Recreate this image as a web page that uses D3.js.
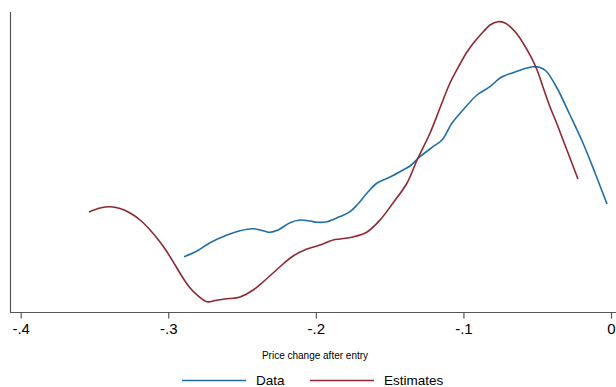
<!DOCTYPE html>
<html>
<head>
<meta charset="utf-8">
<script src="https://cdn.jsdelivr.net/npm/d3@7"></script>
<style>
  body { margin: 0; background: #fff; }
  svg { display: block; font-family: "Liberation Sans", Arial, sans-serif; }
</style>
</head>
<body>
<svg width="616" height="387"></svg>
<script>
// x ticks
var tickValues = [-0.4, -0.3, -0.2, -0.1, 0];
var tickLabels = ["-.4", "-.3", "-.2", "-.1", "0"];

// Data (kernel density of observed price change)
var dataX = [-0.2893, -0.2805, -0.2717, -0.2602, -0.2514, -0.2425, -0.2358, -0.2310, -0.2256, -0.2175,
             -0.2107, -0.2039, -0.1992, -0.1924, -0.1836, -0.1768, -0.1721, -0.1653, -0.1585, -0.1497,
             -0.1409, -0.1362, -0.1294, -0.1206, -0.1145, -0.1077, -0.1003, -0.0908, -0.0820, -0.0752,
             -0.0664, -0.0569, -0.0528, -0.0481, -0.0440, -0.0366, -0.0278, -0.0190, -0.0108, -0.0027];
var dataY = [1.843, 2.033, 2.31, 2.567, 2.71, 2.777, 2.71, 2.657, 2.733, 2.977,
             3.067, 3.033, 2.99, 3.01, 3.183, 3.343, 3.567, 3.967, 4.30, 4.50,
             4.733, 4.867, 5.177, 5.51, 5.733, 6.30, 6.733, 7.233, 7.51, 7.80,
             7.977, 8.133, 8.177, 8.15, 8.033, 7.467, 6.567, 5.633, 4.633, 3.60];

// Estimates
var estX = [-0.3537, -0.3462, -0.3394, -0.3327, -0.3259, -0.3191, -0.3123, -0.3056, -0.3008, -0.2954,
            -0.2900, -0.2852, -0.2805, -0.2737, -0.2683, -0.2615, -0.2514, -0.2425, -0.2358, -0.2290,
            -0.2222, -0.2154, -0.2060, -0.1972, -0.1883, -0.1836, -0.1748, -0.1653, -0.1565, -0.1477,
            -0.1382, -0.1314, -0.1226, -0.1159, -0.1091, -0.1023, -0.0976, -0.0921, -0.0867, -0.0820,
            -0.0766, -0.0718, -0.0684, -0.0637, -0.0596, -0.0549, -0.0501, -0.0461, -0.0413, -0.0366,
            -0.0325, -0.0278, -0.0224];
var estY = [3.333, 3.467, 3.51, 3.45, 3.30, 3.067, 2.733, 2.333, 2.0, 1.567,
            1.133, 0.80, 0.567, 0.343, 0.383, 0.433, 0.50, 0.733, 1.0, 1.30,
            1.60, 1.867, 2.10, 2.233, 2.40, 2.433, 2.50, 2.667, 3.067, 3.633,
            4.30, 5.067, 5.967, 6.80, 7.633, 8.267, 8.667, 9.033, 9.333, 9.567,
            9.677, 9.633, 9.51, 9.267, 8.967, 8.567, 8.067, 7.50, 6.833, 6.267,
            5.733, 5.133, 4.433];

var seriesNames = ["Data", "Estimates"];
var colors = ["#1f6fa6", "#902832"];

var svg = d3.select("svg");

var x = d3.scaleLinear().domain([-0.4, 0]).range([20.7, 611]);
var y = d3.scaleLinear().domain([0, 10]).range([312, 12]);

var axisColor = "#555";

// axis lines
svg.append("line")
    .attr("x1", 10.5).attr("x2", 10.5)
    .attr("y1", 12).attr("y2", 312.5)
    .style("stroke", axisColor).style("stroke-width", 1.2);

var xAxis = svg.append("g")
    .attr("transform", "translate(0,312.5)")
    .call(d3.axisBottom(x)
      .tickValues(tickValues)
      .tickFormat(function(d, i) { return tickLabels[i]; })
      .tickSize(6)
      .tickPadding(5));

xAxis.select(".domain").remove();
xAxis.selectAll(".tick line").style("stroke", axisColor).style("stroke-width", 1.2);
xAxis.selectAll(".tick text")
    .style("font-family", "'Liberation Sans', Arial, sans-serif")
    .style("font-size", "15px")
    .style("fill", "#000");

svg.append("line")
    .attr("x1", 10).attr("x2", 616)
    .attr("y1", 312.5).attr("y2", 312.5)
    .style("stroke", axisColor).style("stroke-width", 1.2);

// axis title
svg.append("text")
    .attr("x", 315)
    .attr("y", 359)
    .attr("text-anchor", "middle")
    .style("font-size", "10px")
    .style("fill", "#000")
    .text("Price change after entry");

// curves
var line = d3.line()
    .x(function(d) { return x(d[0]); })
    .y(function(d) { return y(d[1]); })
    .curve(d3.curveCatmullRom.alpha(0.5));

var series = [d3.zip(dataX, dataY), d3.zip(estX, estY)];

svg.selectAll("path.series")
    .data(series)
    .enter().append("path")
    .attr("class", "series")
    .attr("d", line)
    .style("fill", "none")
    .style("stroke", function(d, i) { return colors[i]; })
    .style("stroke-width", 1.6);

// legend
var legend = svg.selectAll("g.legend")
    .data(seriesNames)
    .enter().append("g")
    .attr("class", "legend")
    .attr("transform", function(d, i) { return "translate(" + (182 + i * 128) + ",380)"; });

legend.append("line")
    .attr("x1", 0).attr("x2", 64)
    .attr("y1", 0.5).attr("y2", 0.5)
    .style("stroke", function(d, i) { return colors[i]; })
    .style("stroke-width", 1.6);

legend.append("text")
    .attr("x", 74)
    .attr("y", 5)
    .style("font-size", "13.5px")
    .style("fill", "#000")
    .text(function(d) { return d; });
</script>
</body>
</html>
